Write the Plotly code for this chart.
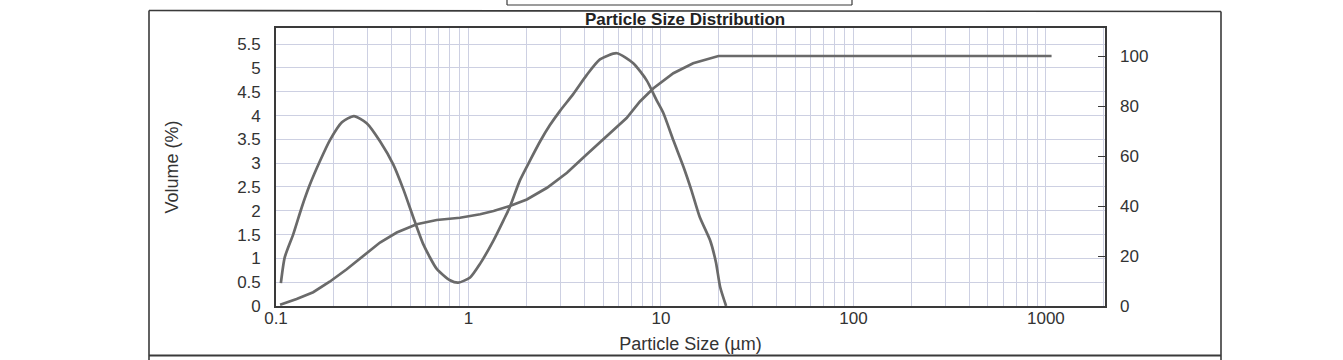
import plotly.graph_objects as go

# ---- data ----
vol_size = [0.106, 0.111, 0.123, 0.136, 0.150, 0.169, 0.191, 0.220, 0.254, 0.296,
            0.347, 0.407, 0.459, 0.517, 0.582, 0.684, 0.802, 0.885, 1.02, 1.15,
            1.35, 1.52, 1.64, 1.85, 2.09, 2.35, 2.65, 2.99, 3.50, 4.11,
            4.82, 5.89, 7.18, 8.43, 9.50, 10.3, 11.6, 13.1, 14.4, 15.9,
            18.0, 19.3, 20.3, 21.8]
vol_pct = [0.48, 1.02, 1.51, 2.07, 2.55, 3.04, 3.49, 3.86, 3.99, 3.84,
           3.46, 2.97, 2.45, 1.86, 1.30, 0.78, 0.54, 0.49, 0.60, 0.89,
           1.38, 1.80, 2.08, 2.64, 3.06, 3.45, 3.80, 4.10, 4.45, 4.85,
           5.18, 5.31, 5.10, 4.74, 4.32, 4.05, 3.48, 2.92, 2.43, 1.87,
           1.38, 0.92, 0.40, 0.00]

cum_size = [0.105, 0.128, 0.156, 0.190, 0.233, 0.283, 0.347, 0.424, 0.538, 0.684,
            0.903, 1.15, 1.35, 1.64, 2.01, 2.56, 3.25, 4.11, 5.22, 6.63,
            7.78, 9.14, 11.6, 14.7, 19.9, 1070]
cum_pct = [0.5, 2.8, 5.5, 9.7, 14.7, 20.0, 25.4, 29.4, 32.7, 34.4,
           35.3, 36.7, 38.0, 40.0, 42.6, 47.3, 53.3, 60.6, 67.8, 75.2,
           81.8, 87.1, 93.1, 97.1, 100.0, 100.0]

x_label_vals = [0.1, 1, 10, 100, 1000]
x_label_text = ["0.1", "1", "10", "100", "1000"]
y_left_vals = [0, 0.5, 1, 1.5, 2, 2.5, 3, 3.5, 4, 4.5, 5, 5.5]
y_left_text = ["0", "0.5", "1", "1.5", "2", "2.5", "3", "3.5", "4", "4.5", "5", "5.5"]
y_right_vals = [0, 20, 40, 60, 80, 100]

title_text = "Particle Size Distribution"
x_title = "Particle Size (µm)"
y_title = "Volume (%)"

# grid positions on the log axis (1..9 per decade)
grid_vals = []
for e in range(-1, 4):
    for m in range(1, 10):
        v = round(m * 10 ** e, 6)
        if v <= 2000:
            grid_vals.append(v)
grid_text = []
for v in grid_vals:
    grid_text.append(x_label_text[x_label_vals.index(v)] if v in x_label_vals else "")

FONT = "Liberation Sans, Arial, sans-serif"
CURVE = "#6a6a6a"
GRID = "#cdd0e2"
FRAME = "#3a3a3a"

fig = go.Figure()
fig.add_trace(go.Scatter(x=vol_size, y=vol_pct, mode="lines",
                         line=dict(color=CURVE, width=2.7, shape="spline", smoothing=0.6),
                         yaxis="y", showlegend=False, hoverinfo="x+y"))
fig.add_trace(go.Scatter(x=cum_size, y=cum_pct, mode="lines",
                         line=dict(color=CURVE, width=2.7),
                         yaxis="y2", showlegend=False, hoverinfo="x+y"))

fig.update_layout(
    width=1343, height=360,
    margin=dict(l=276, r=238, t=28, b=54, pad=0, autoexpand=False),
    paper_bgcolor="white", plot_bgcolor="white",
    font=dict(family=FONT, size=17, color="#333333"),
    title=dict(text="<b>" + title_text + "</b>", x=0.4934, xref="paper", xanchor="center",
               y=1.0, yref="paper", yanchor="bottom", pad=dict(b=3),
               font=dict(family=FONT, size=17, color="#222222")),
    xaxis=dict(type="log", range=[-1, 3.307], automargin=False,
               tickmode="array", tickvals=grid_vals, ticktext=grid_text,
               showgrid=True, gridcolor=GRID, gridwidth=1,
               showline=True, linecolor=FRAME, linewidth=1.6, mirror=True,
               ticks="", ticklabelstandoff=-4, zeroline=False,
               title=dict(text=x_title, standoff=10, font=dict(size=18))),
    yaxis=dict(range=[0, 5.84], automargin=False,
               tickmode="array", tickvals=y_left_vals, ticktext=y_left_text,
               showgrid=True, gridcolor=GRID, gridwidth=1, zeroline=False,
               showline=True, linecolor=FRAME, linewidth=1.6, mirror=True,
               ticks="", ticklabelstandoff=10,
               title=dict(text=y_title, standoff=54, font=dict(size=18))),
    yaxis2=dict(range=[0, 111.2], overlaying="y", side="right", automargin=False,
                tickmode="array", tickvals=y_right_vals,
                showgrid=False, zeroline=False, showline=False,
                ticks="inside", ticklen=7, tickcolor=FRAME, tickwidth=1.2,
                ticklabelstandoff=14),
)

# outer frame of the scanned report page
def pline(x0, y0, x1, y1, w=1.6):
    fig.add_shape(type="line", xref="paper", yref="paper", x0=x0, y0=y0, x1=x1, y1=y1,
                  line=dict(color=FRAME, width=w), layer="above")

def px_x(p):
    return (p - 276) / 829.0

def px_y(p):
    return (306 - p) / 278.0

pline(px_x(149), px_y(10.5), px_x(1221), px_y(11.5))   # top
pline(px_x(149), px_y(10.5), px_x(149), px_y(360))     # left
pline(px_x(1221), px_y(11.5), px_x(1221), px_y(360))   # right
pline(px_x(149), px_y(355.5), px_x(1221), px_y(355.5), w=2)  # bottom
# small box at very top
pline(px_x(507), px_y(0), px_x(507), px_y(5), w=1.2)
pline(px_x(507), px_y(5), px_x(852), px_y(5), w=1.2)
pline(px_x(852), px_y(0), px_x(852), px_y(5), w=1.2)

fig.write_html("out.html", config={"displayModeBar": False},
               post_script="document.body.style.margin='0';document.body.style.overflow='hidden';")
